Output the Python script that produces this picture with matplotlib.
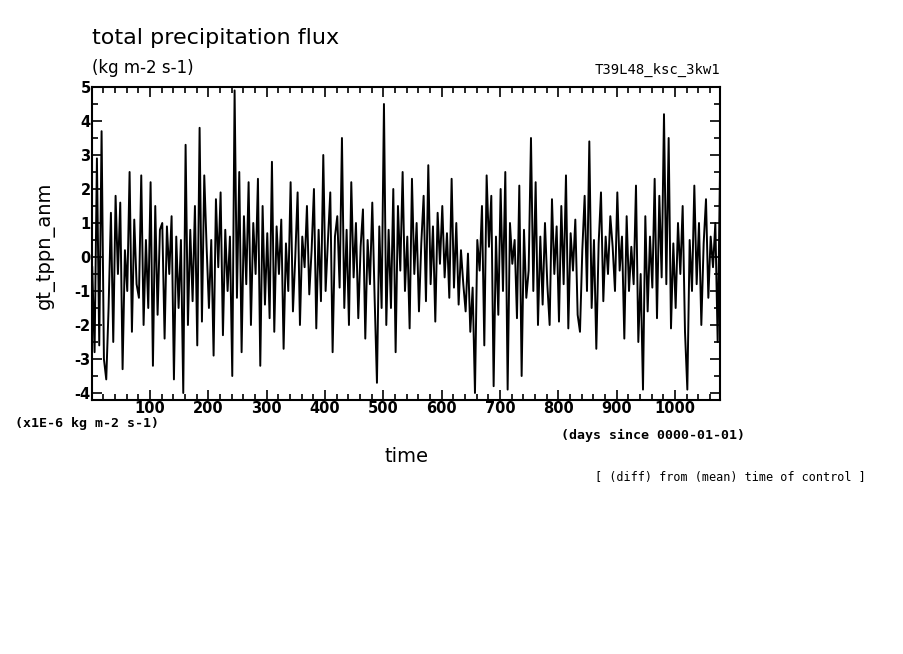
import numpy as np
import matplotlib
matplotlib.use("Agg")
import matplotlib.pyplot as plt
from matplotlib.ticker import MultipleLocator

plt.rcParams['axes.unicode_minus'] = False

days = np.arange(1, 1078, 4)
anm = [
 -0.3,-2.8,2.9,-2.6,3.7,-3.0,-3.6,-1.5,1.3,-2.5,1.8,-0.5,1.6,-3.3,0.2,-1.0,2.5,-2.2,1.1,-0.8,-1.2,2.4,-2.0,0.5,-1.5,
 2.2,-3.2,1.5,-1.7,0.8,1.0,-2.4,0.9,-0.5,1.2,-3.6,0.6,-1.5,0.5,-4.0,3.3,-2.0,0.8,-1.3,1.5,-2.6,3.8,-1.9,2.4,0.3,
 -1.5,0.5,-2.9,1.7,-0.3,1.9,-2.3,0.8,-1.0,0.6,-3.5,4.9,-1.2,2.5,-2.8,1.2,-0.8,2.2,-2.0,1.0,-0.5,2.3,-3.2,1.5,-1.4,
 0.7,-1.8,2.8,-2.2,0.9,-0.5,1.1,-2.7,0.4,-1.0,2.2,-1.6,0.0,1.9,-2.0,0.6,-0.3,1.5,-1.1,0.2,2.0,-2.1,0.8,-1.3,3.0,
 -1.0,0.5,1.9,-2.8,0.6,1.2,-0.9,3.5,-1.5,0.8,-2.0,2.2,-0.6,1.0,-1.8,0.3,1.4,-2.4,0.5,-0.8,1.6,-1.2,-3.7,0.9,-1.5,
 4.5,-2.0,0.8,-1.5,2.0,-2.8,1.5,-0.4,2.5,-1.0,0.6,-2.1,2.3,-0.5,1.0,-1.6,0.4,1.8,-1.3,2.7,-0.8,0.9,-1.9,1.3,-0.2,
 1.5,-0.6,0.7,-1.2,2.3,-0.9,1.0,-1.4,0.2,-0.8,-1.6,0.1,-2.2,-0.9,-4.0,0.5,-0.4,1.5,-2.6,2.4,0.3,1.8,-3.8,0.6,-1.7,
 2.0,-1.0,2.5,-3.9,1.0,-0.2,0.5,-1.8,2.1,-3.5,0.8,-1.2,-0.4,3.5,-1.0,2.2,-2.0,0.6,-1.4,1.0,-0.8,-2.0,1.7,-0.5,0.9,
 -1.9,1.5,-0.8,2.4,-2.1,0.7,-0.4,1.1,-1.7,-2.2,0.2,1.8,-1.0,3.4,-1.5,0.5,-2.7,0.4,1.9,-1.3,0.6,-0.5,1.2,0.3,-1.0,
 1.9,-0.4,0.6,-2.4,1.2,-1.0,0.3,-0.8,2.1,-2.5,-0.5,-3.9,1.2,-1.6,0.6,-0.9,2.3,-1.8,1.8,-0.6,4.2,-0.8,3.5,-2.1,0.4,
 -1.5,1.0,-0.5,1.5,-2.2,-3.9,0.5,-1.0,2.1,-0.8,1.0,-2.0,0.4,1.7,-1.2,0.6,-0.3,1.0,-2.5,2.5,
]
xticks = [100, 200, 300, 400, 500, 600, 700, 800, 900, 1000]
yticks = [-4, -3, -2, -1, 0, 1, 2, 3, 4, 5]

W, H = 904, 654
fig = plt.figure(figsize=(W/100, H/100), dpi=100)
ax = fig.add_axes([92/W, 1-400/H, (720-92)/W, (400-87)/H])
ax.plot(days, anm, color='black', lw=1.4)
ax.set_xlim(0.57, 1077)
ax.set_ylim(-4.206, 5)
ax.set_xticks(xticks)
ax.set_yticks(yticks)
ax.xaxis.set_minor_locator(MultipleLocator(20))
ax.yaxis.set_minor_locator(MultipleLocator(0.5))
ax.tick_params(which='both', direction='in', top=True, right=True, width=1.2)
ax.tick_params(which='major', length=7, labelsize=10.5, pad=1)
ax.tick_params(which='minor', length=4)
for s in ax.spines.values():
    s.set_linewidth(1.5)
for lab in ax.get_xticklabels() + ax.get_yticklabels():
    lab.set_fontweight('bold')

def px(x, y, s, **kw):
    fig.text(x/W, 1-y/H, s, **kw)

mono = 'DejaVu Sans Mono'
px(92, 38, "total precipitation flux", fontsize=16, va='center')
px(92, 68, "(kg m-2 s-1)", fontsize=12, va='center')
px(720, 70, "T39L48_ksc_3kw1", fontsize=10, va='center', ha='right', family=mono)
px(45, 245, "gt_tppn_anm", fontsize=14, va='center', ha='center', rotation=90)
px(407, 457, "time", fontsize=14, va='center', ha='center')
px(15, 423, "(x1E-6 kg m-2 s-1)", fontsize=9.5, va='center', fontweight='bold', family=mono)
px(745, 435, "(days since 0000-01-01)", fontsize=9.5, va='center', ha='right', fontweight='bold', family=mono)
px(866, 477, "[ (diff) from (mean) time of control ]", fontsize=8.5, va='center', ha='right', family=mono)

fig.savefig("out.png", dpi=100)
